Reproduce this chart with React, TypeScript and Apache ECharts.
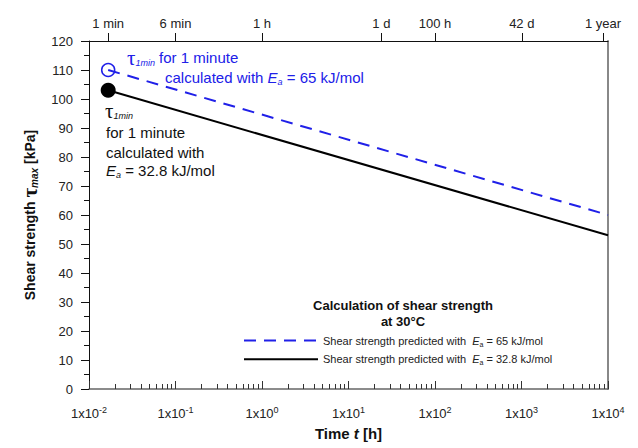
import React, { useEffect, useRef } from "react";
import * as echarts from "echarts";

// ---- data ----
const timeMinHours = 0.01;
const timeMaxHours = 10000;
const topTickHours = [1 / 60, 0.1, 1, 24, 100, 1008, 8760];
const topTickLabels = ["1 min", "6 min", "1 h", "1 d", "100 h", "42 d", "1 year"];
const minorTickDecades = [-2, -1, 0, 1, 2, 3];
const minorTickMultipliers = [2, 3, 4, 5, 6, 7, 8, 9];
const seriesTimesHours = [1 / 60, 10000];
const shearEa65 = [110, 60];
const shearEa328 = [103, 53];
const yMin = 0;
const yMax = 120;
const yInterval = 10;

const FONT = "'Liberation Sans', Arial, sans-serif";
const SERIF = "'Liberation Serif', 'DejaVu Serif', serif";
const BLUE = "#2020e8";

export default function App() {
  const ref = useRef<HTMLDivElement>(null);
  useEffect(() => {
    if (!ref.current) return;
    const chart = echarts.init(ref.current, undefined, { renderer: "svg" });
    const topPos = topTickHours.map((h) => Math.log10(h));
    const minorPos: number[] = [];
    minorTickDecades.forEach((d) =>
      minorTickMultipliers.forEach((m) => minorPos.push(d + Math.log10(m)))
    );
    const legendRich = {
      t: { fontSize: 11, fontFamily: FONT, lineHeight: 14, color: "#222" },
      i: { fontSize: 11, fontFamily: FONT, fontStyle: "italic", lineHeight: 14, color: "#222" },
      sub: { fontSize: 7, fontFamily: FONT, lineHeight: 7, verticalAlign: "bottom", color: "#222" },
    };
    const annRich = (color: string) => ({
      t: { fontSize: 15, fontFamily: FONT, lineHeight: 18, fill: color, color },
      i: { fontSize: 15, fontFamily: FONT, fontStyle: "italic", lineHeight: 18, fill: color, color },
      sub: { fontSize: 9, fontFamily: FONT, fontStyle: "italic", lineHeight: 9, verticalAlign: "bottom", fill: color, color },
      tau: { fontSize: 21, fontFamily: SERIF, lineHeight: 20, fill: color, color },
    });
    const option: any = {
      animation: false,
      backgroundColor: "#fff",
      grid: { left: 89, right: 30, top: 41, bottom: 59 },
      legend: {
        show: true,
        orient: "vertical",
        left: 243,
        top: 335,
        padding: 0,
        itemWidth: 74,
        itemHeight: 14,
        itemGap: 6,
        itemStyle: { opacity: 0 },
        data: ["Ea65", "Ea328"],
        formatter: (name: string) =>
          name === "Ea65"
            ? "{t|Shear strength predicted with  }{i|E}{sub|a}{t| = 65 kJ/mol}"
            : "{t|Shear strength predicted with  }{i|E}{sub|a}{t| = 32.8 kJ/mol}",
        textStyle: { fontSize: 11, fontFamily: FONT, color: "#222", rich: legendRich },
      },
      xAxis: [
        {
          type: "log",
          logBase: 10,
          position: "bottom",
          min: timeMinHours,
          max: timeMaxHours,
          name: "{a|Time }{ai|t}{a| [h]}",
          nameLocation: "middle",
          nameGap: 37,
          nameTextStyle: {
            rich: {
              a: { fontSize: 15, fontWeight: "bold", fontFamily: FONT, color: "#111" },
              ai: { fontSize: 15, fontWeight: "bold", fontStyle: "italic", fontFamily: FONT, color: "#111" },
            },
          },
          axisLine: { onZero: false, lineStyle: { color: "#666", width: 1.5 } },
          axisTick: { inside: true, length: 8, lineStyle: { color: "#333" } },
          minorTick: { show: false },
          splitLine: { show: false },
          axisLabel: {
            margin: 16,
            formatter: (v: number) => `{b|1x10}{sup|${Math.round(Math.log10(v))}}`,
            rich: {
              b: { fontSize: 13, fontFamily: FONT, lineHeight: 16, color: "#222" },
              sup: { fontSize: 9, fontFamily: FONT, lineHeight: 9, verticalAlign: "top", color: "#222" },
            },
          },
        },
        {
          type: "value",
          position: "top",
          min: -2,
          max: 4,
          axisLine: { onZero: false, lineStyle: { color: "#111", width: 1 } },
          axisTick: { inside: false, length: 8, customValues: topPos, lineStyle: { color: "#111" } },
          splitLine: { show: false },
          axisLabel: {
            customValues: topPos,
            margin: 11,
            fontSize: 13,
            fontFamily: FONT,
            color: "#222",
            formatter: (v: number) => {
              const idx = topPos.findIndex((p) => Math.abs(p - v) < 1e-6);
              return idx >= 0 ? topTickLabels[idx] : "";
            },
          },
        },
        {
          type: "value",
          position: "bottom",
          min: -2,
          max: 4,
          axisLine: { show: false, onZero: false },
          axisTick: { inside: true, length: 5, customValues: minorPos, lineStyle: { color: "#333" } },
          axisLabel: { show: false },
          splitLine: { show: false },
        },
      ],
      yAxis: [
        {
          type: "value",
          position: "left",
          min: yMin,
          max: yMax,
          interval: yInterval,
          name: "{a|Shear strength }{tau|τ}{sub|max}{a| [kPa]}",
          nameLocation: "middle",
          nameGap: 49,
          nameTextStyle: {
            rich: {
              a: { fontSize: 14, fontWeight: "bold", fontFamily: FONT, color: "#111", lineHeight: 20 },
              tau: { fontSize: 21, fontWeight: "bold", fontFamily: SERIF, color: "#111", lineHeight: 20 },
              sub: { fontSize: 10, fontWeight: "bold", fontStyle: "italic", fontFamily: FONT, color: "#111", lineHeight: 10, verticalAlign: "bottom" },
            },
          },
          axisLine: { show: true, onZero: false, lineStyle: { color: "#111", width: 1 } },
          axisTick: { show: true, inside: false, length: 8, lineStyle: { color: "#111" } },
          minorTick: { show: true, splitNumber: 2, length: 5, lineStyle: { color: "#111" } },
          splitLine: { show: false },
          axisLabel: { margin: 16, fontSize: 13, fontFamily: FONT, color: "#222" },
        },
        {
          type: "value",
          position: "right",
          min: yMin,
          max: yMax,
          interval: yInterval,
          axisLine: { show: true, onZero: false, lineStyle: { color: "#888", width: 2 } },
          axisTick: { show: false },
          axisLabel: { show: false },
          splitLine: { show: false },
        },
      ],
      series: [
        {
          name: "Ea65",
          type: "line",
          xAxisIndex: 0,
          yAxisIndex: 0,
          data: seriesTimesHours.map((t, i) => [t, shearEa65[i]]),
          symbol: "none",
          lineStyle: { color: BLUE, width: 2, type: [12, 8] },
          itemStyle: { color: BLUE },
        },
        {
          name: "Ea328",
          type: "line",
          xAxisIndex: 0,
          yAxisIndex: 0,
          data: seriesTimesHours.map((t, i) => [t, shearEa328[i]]),
          symbol: "none",
          lineStyle: { color: "#000", width: 2, type: "solid" },
          itemStyle: { color: "#000" },
        },
        {
          name: "start65",
          type: "scatter",
          xAxisIndex: 0,
          yAxisIndex: 0,
          data: [[seriesTimesHours[0], shearEa65[0]]],
          symbol: "circle",
          symbolSize: 13,
          itemStyle: { color: "rgba(255,255,255,0)", borderColor: BLUE, borderWidth: 1.5, opacity: 1 },
          z: 5,
        },
        {
          name: "start328",
          type: "scatter",
          xAxisIndex: 0,
          yAxisIndex: 0,
          data: [[seriesTimesHours[0], shearEa328[0]]],
          symbol: "circle",
          symbolSize: 15,
          itemStyle: { color: "#000", opacity: 1 },
          z: 5,
        },
      ],
      graphic: [
        {
          type: "text",
          left: 127,
          top: 47,
          style: { text: "{tau|τ}{sub|1min}{t| for 1 minute}", rich: annRich(BLUE), fill: BLUE },
        },
        {
          type: "text",
          left: 165,
          top: 70,
          style: { text: "{t|calculated with }{i|E}{sub|a}{t| = 65 kJ/mol}", rich: annRich(BLUE), fill: BLUE },
        },
        {
          type: "text",
          left: 105,
          top: 100,
          style: { text: "{tau|τ}{sub|1min}", rich: annRich("#111"), fill: "#111" },
        },
        {
          type: "text",
          left: 106,
          top: 125,
          style: { text: "{t|for 1 minute}", rich: annRich("#111"), fill: "#111" },
        },
        {
          type: "text",
          left: 106,
          top: 145,
          style: { text: "{t|calculated with}", rich: annRich("#111"), fill: "#111" },
        },
        {
          type: "text",
          left: 106,
          top: 163,
          style: { text: "{i|E}{sub|a}{t| = 32.8 kJ/mol}", rich: annRich("#111"), fill: "#111" },
        },
        {
          type: "text",
          x: 403,
          y: 297,
          style: {
            text: "Calculation of shear strength\nat 30°C",
            textAlign: "center",
            textVerticalAlign: "top",
            font: `bold 13px ${FONT}`,
            lineHeight: 16,
            fill: "#111",
          },
        },
      ],
    };
    chart.setOption(option);
    return () => chart.dispose();
  }, []);
  return (
    <div
      ref={ref}
      style={{ position: "absolute", left: 0, top: 0, width: 638, height: 448 }}
    />
  );
}
